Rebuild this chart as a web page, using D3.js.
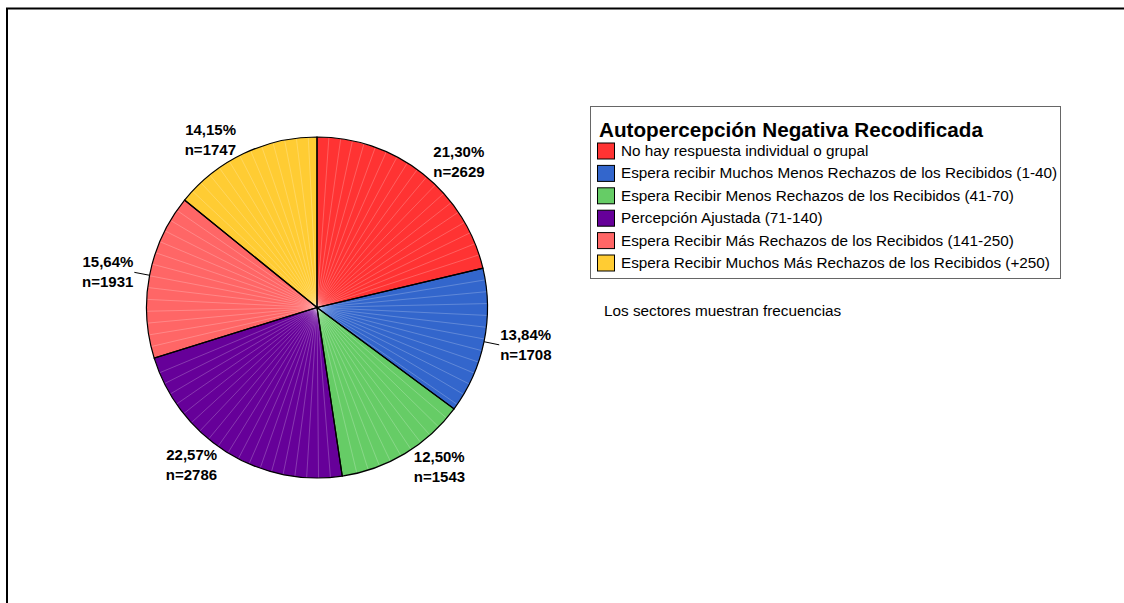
<!DOCTYPE html>
<html>
<head>
<meta charset="utf-8">
<script src="https://cdn.jsdelivr.net/npm/d3@7"></script>
<style>
  body { margin: 0; background: #fff; }
  svg { display: block; font-family: "Liberation Sans", Arial, sans-serif; }
</style>
</head>
<body>
<svg width="1124" height="603"></svg>
<script>
// categories, counts and colours, clockwise from 12 o'clock
const categories = [
  'No hay respuesta individual o grupal',
  'Espera recibir Muchos Menos Rechazos de los Recibidos (1-40)',
  'Espera Recibir Menos Rechazos de los Recibidos (41-70)',
  'Percepción Ajustada (71-140)',
  'Espera Recibir Más Rechazos de los Recibidos (141-250)',
  'Espera Recibir Muchos Más Rechazos de los Recibidos (+250)'
];
const counts = [2629, 1708, 1543, 2786, 1931, 1747];
const colors = ['#ff3333', '#3366cc', '#66cc66', '#660099', '#ff6666', '#ffcc33'];
const legendTitle = 'Autopercepción Negativa Recodificada';
const note = 'Los sectores muestran frecuencias';

const svg = d3.select('svg');
const total = d3.sum(counts);
const pctFmt = d3.format('.2f');

// outer frame (runs off the right / bottom edge)
svg.append('rect')
  .attr('x', 7).attr('y', 8.5)
  .attr('width', 1200).attr('height', 700)
  .attr('fill', 'none').attr('stroke', '#000').attr('stroke-width', 2);

// pie
const cx = 317, cy = 307.5, r = 170.5;
const g = svg.append('g').attr('transform', 'translate(' + cx + ',' + cy + ')');

const slices = d3.pie().sort(null).value(d => d)(counts);
const arc = d3.arc().innerRadius(0).outerRadius(r);

g.selectAll('path.slice')
  .data(slices)
  .enter()
  .append('path')
  .attr('class', 'slice')
  .attr('d', arc)
  .attr('fill', (d, i) => colors[i]);

// faint white facet lines inside each slice
const step = 4 * Math.PI / 180;
slices.forEach(s => {
  for (let a = s.startAngle + step; a < s.endAngle - step / 3; a += step) {
    g.append('line')
      .attr('x1', 0).attr('y1', 0)
      .attr('x2', r * Math.sin(a)).attr('y2', -r * Math.cos(a))
      .attr('stroke', '#fff').attr('stroke-opacity', 0.28).attr('stroke-width', 0.8);
  }
});

// slice borders
g.selectAll('path.border')
  .data(slices)
  .enter()
  .append('path')
  .attr('d', arc)
  .attr('fill', 'none')
  .attr('stroke', '#000')
  .attr('stroke-width', 1.2);

// labels
const rLab = 186;
slices.forEach((s, i) => {
  const mid = (s.startAngle + s.endAngle) / 2;
  const sx = Math.sin(mid), cy0 = -Math.cos(mid);
  const lx = rLab * sx, ly = rLab * cy0;
  if (Math.abs(Math.cos(mid)) < 0.3) {
    g.append('line')
      .attr('x1', r * sx).attr('y1', r * cy0)
      .attr('x2', lx).attr('y2', ly)
      .attr('stroke', '#000').attr('stroke-width', 1);
  }
  const right = sx > 0;
  const t = g.append('text')
    .attr('text-anchor', right ? 'start' : 'end')
    .style('font-size', '15px')
    .style('font-weight', 'bold')
    .attr('fill', '#000');
  t.append('tspan')
    .attr('x', lx + (right ? 1 : -1)).attr('y', ly - 5)
    .text(pctFmt(s.data / total * 100).replace('.', ',') + '%');
  t.append('tspan')
    .attr('x', lx + (right ? 1 : -1)).attr('y', ly + 15)
    .text('n=' + s.data);
});

// legend
const lg = svg.append('g');
lg.append('rect')
  .attr('x', 590.5).attr('y', 106.5)
  .attr('width', 470).attr('height', 172)
  .attr('fill', '#fff').attr('stroke', '#666').attr('stroke-width', 1);

lg.append('text')
  .attr('x', 599).attr('y', 136.5)
  .style('font-size', '20.7px').style('font-weight', 'bold')
  .text(legendTitle);

const rowY = d3.scaleLinear().domain([0, categories.length - 1]).range([151, 263]);

lg.selectAll('rect.sw')
  .data(categories)
  .enter()
  .append('rect')
  .attr('class', 'sw')
  .attr('x', 597.5)
  .attr('y', (d, i) => rowY(i) - 8)
  .attr('width', 17).attr('height', 16)
  .attr('fill', (d, i) => colors[i])
  .attr('stroke', '#000').attr('stroke-width', 1);

lg.selectAll('text.item')
  .data(categories)
  .enter()
  .append('text')
  .attr('class', 'item')
  .attr('x', 621)
  .attr('y', (d, i) => rowY(i) + 5)
  .style('font-size', '15.3px')
  .text(d => d);

svg.append('text')
  .attr('x', 604).attr('y', 316)
  .style('font-size', '15.3px')
  .text(note);
</script>
</body>
</html>
